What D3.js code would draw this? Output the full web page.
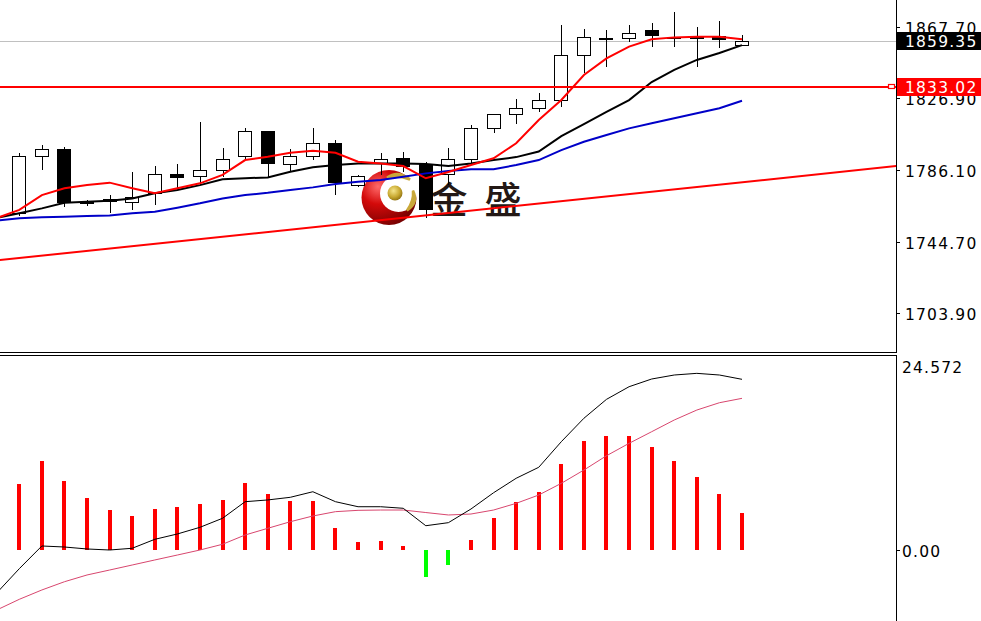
<!DOCTYPE html>
<html>
<head>
<meta charset="utf-8">
<script src="https://cdn.jsdelivr.net/npm/d3@7/dist/d3.min.js"></script>
<style>
  html, body { margin: 0; padding: 0; background: #ffffff; }
  svg { display: block; }
  text { font-family: "DejaVu Sans", Verdana, sans-serif; }
</style>
</head>
<body>
<svg id="chart" width="981" height="621"></svg>
<script>
// ---------------- DATA ----------------
// Bar index 0 is the partly hidden bar at the very left edge.
const opens  = [null,1760.7,1793.4,1797.6,1767.2,1769.0,1767.4,1772.5,1783.0,1782.0,1785.4,1793.4,1807.7,1789.2,1793.8,1801.1,1777.2,1789.6,1792.5,1788.7,1783.5,1791.9,1809.6,1817.6,1821.1,1825.4,1851.5,1860.8,1860.8,1865.8,1861.8,1861.6,1862.0,1857.2];
const highs  = [null,1795.7,1800.3,1798.8,1768.7,1771.5,1784.7,1788.1,1789.1,1813.4,1798.2,1809.6,1808.3,1797.6,1809.6,1803.0,1783.0,1795.4,1795.9,1790.6,1798.2,1811.5,1817.8,1826.2,1830.0,1868.7,1866.2,1865.8,1868.7,1870.0,1876.3,1867.7,1871.1,1863.0];
const lows   = [null,1759.5,1785.8,1764.7,1765.5,1761.2,1763.0,1765.8,1775.4,1777.2,1782.0,1791.5,1781.1,1784.8,1791.5,1771.5,1776.1,1783.0,1784.8,1758.2,1777.2,1788.7,1806.8,1812.1,1818.8,1822.0,1841.1,1844.8,1859.1,1856.3,1856.3,1844.8,1855.4,1856.5];
const closes = [null,1793.8,1797.6,1767.4,1766.6,1768.1,1770.2,1783.0,1781.6,1785.4,1791.9,1807.7,1789.6,1793.4,1800.7,1778.6,1782.0,1792.1,1788.1,1763.0,1791.9,1809.6,1817.6,1821.1,1825.4,1851.5,1861.6,1861.2,1863.9,1862.4,1861.5,1861.5,1860.5,1859.35];

const maFast = [1758.4,1763.0,1771.5,1775.4,1777.2,1778.6,1775.4,1772.5,1775.4,1778.2,1783.0,1791.5,1793.4,1795.7,1796.8,1795.7,1790.6,1789.6,1788.1,1781.1,1784.7,1788.7,1792.5,1801.1,1814.4,1825.8,1840.1,1849.6,1856.3,1860.5,1861.6,1862.0,1862.0,1860.5];
const maMid  = [1758.4,1761.1,1763.9,1767.1,1767.7,1768.3,1769.6,1772.5,1774.4,1777.2,1780.5,1781.1,1781.6,1784.8,1787.4,1788.7,1789.6,1789.6,1789.6,1789.2,1788.1,1789.6,1791.5,1793.2,1796.4,1805.2,1812.1,1819.0,1825.8,1836.1,1843.0,1848.7,1852.7,1857.2];
const maSlow = [1757.0,1758.2,1758.8,1759.1,1759.5,1759.9,1761.1,1762.0,1764.3,1766.8,1769.6,1771.5,1772.8,1774.4,1775.9,1777.8,1779.1,1780.1,1782.0,1783.9,1785.2,1786.2,1786.2,1788.7,1791.5,1797.2,1802.0,1805.8,1809.6,1812.5,1815.4,1818.2,1821.1,1825.4];

const trendLine = [{i: 0, p: 1734.2}, {i: 40, p: 1788.3}];
const bidPrice = 1859.35;
const levelPrice = 1833.02;
const priceTicks = [1867.70, 1826.90, 1786.10, 1744.70, 1703.90];

const macdHist = [null,8.36,11.33,8.78,6.66,5.09,4.37,5.26,5.51,5.86,6.37,8.49,7.13,6.24,6.24,2.84,1.06,1.18,0.51,-3.40,-1.91,1.27,4.11,6.07,7.35,10.99,13.84,14.51,14.51,13.11,11.33,9.33,7.09,4.67];
const macdMain = [-5.47,-2.38,0.51,0.38,0.13,0.0,0.22,1.36,2.04,2.89,4.04,6.15,6.37,6.71,7.42,6.15,5.51,5.51,5.31,3.09,3.48,5.22,7.29,9.13,10.53,13.79,16.77,19.18,20.79,21.77,22.28,22.49,22.28,21.73];
const macdSignal = [-7.64,-6.28,-5.09,-4.04,-3.18,-2.55,-1.91,-1.27,-0.64,0.0,0.73,1.91,2.76,3.60,4.33,4.88,5.05,5.09,5.09,4.77,4.46,4.58,5.09,5.94,7.00,8.49,10.18,12.00,13.58,15.06,16.55,17.82,18.75,19.31];
const macdMax = 24.572;
const macdTicks = [0.00];

const logoText = ["金", "盛"];
const logoAnchor = {i: 17.37, p: 1770.1};

// ---------------- LAYOUT ----------------
const W = 981, H = 621;
const axisX = 896;
const topBottom = 352;
const lowTop = 355;

const svg = d3.select("#chart");

const x = d3.scaleLinear().domain([0, 33]).range([-3.3, 742]);
const y = d3.scaleLinear().domain([1703.90, 1867.70]).range([313.4, 26.7]);
const ym = d3.scaleLinear().domain([0, macdMax]).range([550, 357]);

const defs = svg.append("defs");
defs.append("clipPath").attr("id", "clipTop").append("rect")
  .attr("x", 0).attr("y", 0).attr("width", axisX).attr("height", topBottom);
defs.append("clipPath").attr("id", "clipLow").append("rect")
  .attr("x", 0).attr("y", lowTop + 1).attr("width", axisX).attr("height", H - lowTop);

// gradients for logo
const rg = defs.append("radialGradient").attr("id", "redBall")
  .attr("cx", "30%").attr("cy", "30%").attr("r", "80%");
rg.append("stop").attr("offset", "0%").attr("stop-color", "#ff6a6a");
rg.append("stop").attr("offset", "40%").attr("stop-color", "#d40a0a");
rg.append("stop").attr("offset", "100%").attr("stop-color", "#6e0000");
const gg = defs.append("radialGradient").attr("id", "goldBall")
  .attr("cx", "40%").attr("cy", "35%").attr("r", "70%");
gg.append("stop").attr("offset", "0%").attr("stop-color", "#f4e48a");
gg.append("stop").attr("offset", "60%").attr("stop-color", "#c8a830");
gg.append("stop").attr("offset", "100%").attr("stop-color", "#8a6d10");

const gTop = svg.append("g").attr("clip-path", "url(#clipTop)");

// ---- logo watermark (beneath chart) ----
const logo = gTop.append("g");
const lc = {x: x(logoAnchor.i), y: y(logoAnchor.p)};
logo.append("circle").attr("cx", lc.x).attr("cy", lc.y).attr("r", 27.5).attr("fill", "url(#redBall)");
logo.append("circle").attr("cx", lc.x + 9.5).attr("cy", lc.y - 4).attr("r", 18.5).attr("fill", "#ffffff");
logo.append("circle").attr("cx", lc.x + 6).attr("cy", lc.y - 4.5).attr("r", 7.5).attr("fill", "url(#goldBall)");
// gold leaves
logo.append("path")
  .attr("d", `M${lc.x - 2},${lc.y - 20} Q${lc.x + 9},${lc.y - 28} ${lc.x + 21},${lc.y - 18} Q${lc.x + 9},${lc.y - 23} ${lc.x - 2},${lc.y - 20}Z`)
  .attr("fill", "#c9a83a").attr("stroke", "#c9a83a").attr("stroke-width", 2.5);
logo.append("path")
  .attr("d", `M${lc.x + 24},${lc.y - 7} Q${lc.x + 30},${lc.y + 5} ${lc.x + 18},${lc.y + 13} Q${lc.x + 25},${lc.y + 3} ${lc.x + 24},${lc.y - 7}Z`)
  .attr("fill", "#c9a83a").attr("stroke", "#c9a83a").attr("stroke-width", 2.5);
logo.selectAll("text.logo").data(logoText).enter().append("text")
  .attr("class", "logo")
  .attr("x", (d, i) => lc.x + 60 + i * 54)
  .attr("y", lc.y + 0.5)
  .attr("text-anchor", "middle")
  .attr("dominant-baseline", "central")
  .style("font-family", "'Noto Sans CJK SC', sans-serif")
  .style("font-size", "37px")
  .style("font-weight", 500)
  .attr("fill", "#231815")
  .text(d => d);

// grey bid line
gTop.append("line")
  .attr("x1", 0).attr("x2", axisX)
  .attr("y1", Math.round(y(bidPrice)) + 0.5).attr("y2", Math.round(y(bidPrice)) + 0.5)
  .attr("stroke", "#c0c0c0").attr("stroke-width", 1);

// candles
const idx = d3.range(opens.length).filter(i => opens[i] !== null);
const bw = 14;
const cg = gTop.append("g").attr("shape-rendering", "crispEdges");
cg.selectAll("line.wick").data(idx).enter().append("line")
  .attr("x1", i => Math.round(x(i)) + 0.5).attr("x2", i => Math.round(x(i)) + 0.5)
  .attr("y1", i => y(highs[i])).attr("y2", i => y(lows[i]))
  .attr("stroke", "#000").attr("stroke-width", 1);
cg.selectAll("rect.body").data(idx).enter().append("rect")
  .attr("x", i => Math.round(x(i)) - bw / 2 + 0.5)
  .attr("y", i => Math.min(y(opens[i]), y(closes[i])))
  .attr("width", bw - 1)
  .attr("height", i => Math.max(1, Math.abs(y(opens[i]) - y(closes[i]))))
  .attr("fill", i => closes[i] >= opens[i] ? "#ffffff" : "#000000")
  .attr("stroke", "#000").attr("stroke-width", 1);

// moving averages
const line = d3.line().x((d, i) => x(i)).y(d => y(d));
gTop.append("path").datum(maSlow).attr("d", line).attr("fill", "none").attr("stroke", "#0000c8").attr("stroke-width", 2);
gTop.append("path").datum(maMid).attr("d", line).attr("fill", "none").attr("stroke", "#000000").attr("stroke-width", 2);
gTop.append("path").datum(maFast).attr("d", line).attr("fill", "none").attr("stroke", "#ff0000").attr("stroke-width", 2);

// trend line
gTop.append("path").datum(trendLine)
  .attr("d", d3.line().x(d => x(d.i)).y(d => y(d.p)))
  .attr("fill", "none").attr("stroke", "#ff0000").attr("stroke-width", 2);

// horizontal level
gTop.append("line")
  .attr("x1", 0).attr("x2", axisX)
  .attr("y1", Math.round(y(levelPrice))).attr("y2", Math.round(y(levelPrice)))
  .attr("stroke", "#ff0000").attr("stroke-width", 2);
gTop.append("rect")
  .attr("x", axisX - 7.5).attr("y", Math.round(y(levelPrice)) - 2.5)
  .attr("width", 6).attr("height", 4)
  .attr("fill", "#ffffff").attr("stroke", "#ff0000").attr("stroke-width", 1.2);

// ---- borders & axes ----
svg.append("line").attr("x1", 0).attr("x2", axisX + 0.5).attr("y1", topBottom + 0.5).attr("y2", topBottom + 0.5)
  .attr("stroke", "#000").attr("stroke-width", 1);
svg.append("line").attr("x1", 0).attr("x2", axisX + 0.5).attr("y1", lowTop + 0.5).attr("y2", lowTop + 0.5)
  .attr("stroke", "#000").attr("stroke-width", 1);
svg.append("line").attr("x1", axisX + 0.5).attr("x2", axisX + 0.5).attr("y1", 0).attr("y2", topBottom + 1)
  .attr("stroke", "#000").attr("stroke-width", 1);
svg.append("line").attr("x1", axisX + 0.5).attr("x2", axisX + 0.5).attr("y1", lowTop).attr("y2", H)
  .attr("stroke", "#000").attr("stroke-width", 1);

const labelFont = "15.5px";
const labelSpacing = "1.2px";
const ax = svg.append("g");
priceTicks.forEach(t => {
  const yy = Math.round(y(t)) + 0.5;
  ax.append("line").attr("x1", axisX + 1).attr("x2", axisX + 4).attr("y1", yy).attr("y2", yy)
    .attr("stroke", "#000").attr("stroke-width", 1);
  ax.append("text").attr("x", 905).attr("y", yy + 1).attr("dominant-baseline", "central")
    .style("font-size", labelFont).style("letter-spacing", labelSpacing).attr("fill", "#000")
    .text(d3.format(".2f")(t));
});

// price boxes (drawn over the tick labels, as in the terminal)
function priceBox(p, bg) {
  const yy = y(p);
  ax.append("rect").attr("x", axisX + 1).attr("y", Math.round(yy) - 9).attr("width", W - axisX).attr("height", 18)
    .attr("fill", bg);
  ax.append("text").attr("x", 905).attr("y", Math.round(yy) + 1).attr("dominant-baseline", "central")
    .style("font-size", labelFont).style("letter-spacing", labelSpacing).attr("fill", "#fff")
    .text(d3.format(".2f")(p));
}
priceBox(bidPrice, "#000000");
priceBox(levelPrice, "#ff0000");

// ---- MACD panel ----
const gLow = svg.append("g").attr("clip-path", "url(#clipLow)");
const hIdx = d3.range(macdHist.length).filter(i => macdHist[i] !== null);
gLow.append("g").attr("shape-rendering", "crispEdges")
  .selectAll("rect").data(hIdx).enter().append("rect")
  .attr("x", i => Math.round(x(i)) - 2)
  .attr("width", 4)
  .attr("y", i => Math.min(ym(macdHist[i]), ym(0)))
  .attr("height", i => Math.abs(ym(macdHist[i]) - ym(0)))
  .attr("fill", i => macdHist[i] >= 0 ? "#ff0000" : "#00ff00");
const mline = d3.line().x((d, i) => x(i)).y(d => ym(d));
gLow.append("path").datum(macdSignal).attr("d", mline).attr("fill", "none").attr("stroke", "#d8466e").attr("stroke-width", 1);
gLow.append("path").datum(macdMain).attr("d", mline).attr("fill", "none").attr("stroke", "#000000").attr("stroke-width", 1);

macdTicks.forEach(t => {
  const yy = Math.round(ym(t)) + 0.5;
  ax.append("line").attr("x1", axisX + 1).attr("x2", axisX + 4).attr("y1", yy).attr("y2", yy)
    .attr("stroke", "#000").attr("stroke-width", 1);
  ax.append("text").attr("x", 902).attr("y", yy + 1).attr("dominant-baseline", "central")
    .style("font-size", labelFont).style("letter-spacing", labelSpacing).attr("fill", "#000")
    .text(d3.format(".2f")(t));
});
ax.append("text").attr("x", 902).attr("y", ym(macdMax) + 11).attr("dominant-baseline", "central")
  .style("font-size", labelFont).style("letter-spacing", labelSpacing).attr("fill", "#000")
  .text(d3.format(".3f")(macdMax));
</script>
</body>
</html>
